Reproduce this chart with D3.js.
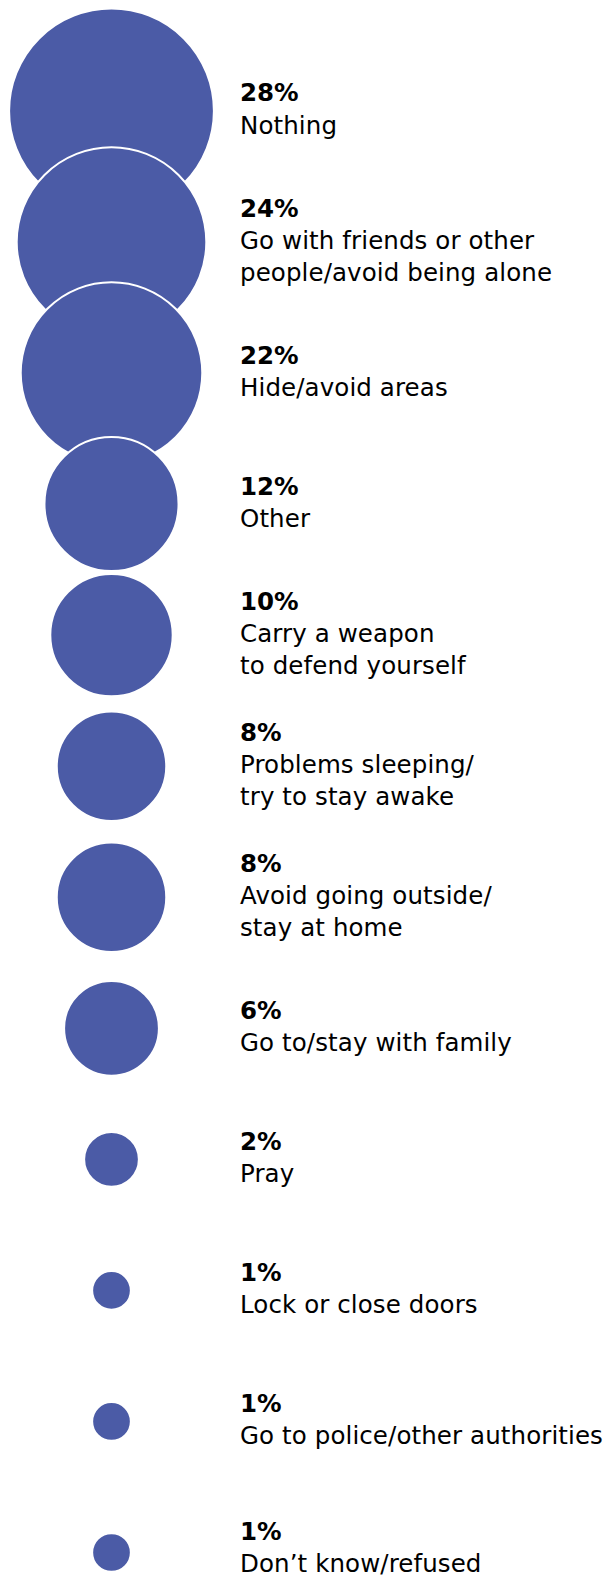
<!DOCTYPE html>
<html>
<head>
<meta charset="utf-8">
<script src="https://cdn.jsdelivr.net/npm/d3@7"></script>
<style>
  html, body { margin: 0; padding: 0; background: #fff; }
  svg text { font-family: "DejaVu Sans", sans-serif; fill: #000; }
</style>
</head>
<body>
<svg id="chart" width="613" height="1577"></svg>
<script>
// Share of respondents per response (%)
const values = [28, 24, 22, 12, 10, 8, 8, 6, 2, 1, 1, 1];

// Response labels, one entry per line of text
const labels = [
  ["Nothing"],
  ["Go with friends or other", "people/avoid being alone"],
  ["Hide/avoid areas"],
  ["Other"],
  ["Carry a weapon", "to defend yourself"],
  ["Problems sleeping/", "try to stay awake"],
  ["Avoid going outside/", "stay at home"],
  ["Go to/stay with family"],
  ["Pray"],
  ["Lock or close doors"],
  ["Go to police/other authorities"],
  ["Don\u2019t know/refused"]
];

const width = 613, height = 1577;
const cx = 111.5;
const textX = 240;
const lineH = 31.5;
const labelDy = 23;     // baseline of first label line below the row centre
const pctDy = -9.5;     // baseline of the percentage relative to the row centre
const bottomPad = 5;    // keep the last baseline inside the drawing

const svg = d3.select("#chart");

// Vertical position of each row
const y = d3.scalePoint()
  .domain(d3.range(values.length))
  .range([110.9, 1552.5]);

// Circle area proportional to the value
const r = d3.scaleSqrt()
  .domain([0, d3.max(values)])
  .range([0, 102.4]);

const rows = values.map((v, i) => ({ v, i, lines: labels[i] }));

svg.append("g")
  .selectAll("circle")
  .data(rows)
  .join("circle")
  .attr("cx", cx)
  .attr("cy", d => y(d.i))
  .attr("r", d => r(d.v))
  .attr("fill", "#4b5ba6")
  .attr("stroke", "#fff")
  .attr("stroke-width", 2);

// Text block centred on the row, nudged up if it would run past the bottom
function blockTop(d) {
  const top = y(d.i) - (d.lines.length - 1) * lineH / 2;
  const lastBaseline = top + labelDy + (d.lines.length - 1) * lineH;
  return top + Math.min(0, (height - bottomPad) - lastBaseline);
}

const g = svg.append("g")
  .selectAll("g")
  .data(rows)
  .join("g")
  .attr("transform", d => `translate(${textX},${blockTop(d)})`);

g.append("text")
  .attr("y", pctDy)
  .style("font-size", "24.5px")
  .style("font-weight", "bold")
  .text(d => d.v + "%");

g.append("text")
  .style("font-size", "24.5px")
  .style("letter-spacing", "0.1px")
  .selectAll("tspan")
  .data(d => d.lines)
  .join("tspan")
  .attr("x", 0)
  .attr("y", (l, j) => labelDy + j * lineH)
  .text(l => l);
</script>
</body>
</html>
